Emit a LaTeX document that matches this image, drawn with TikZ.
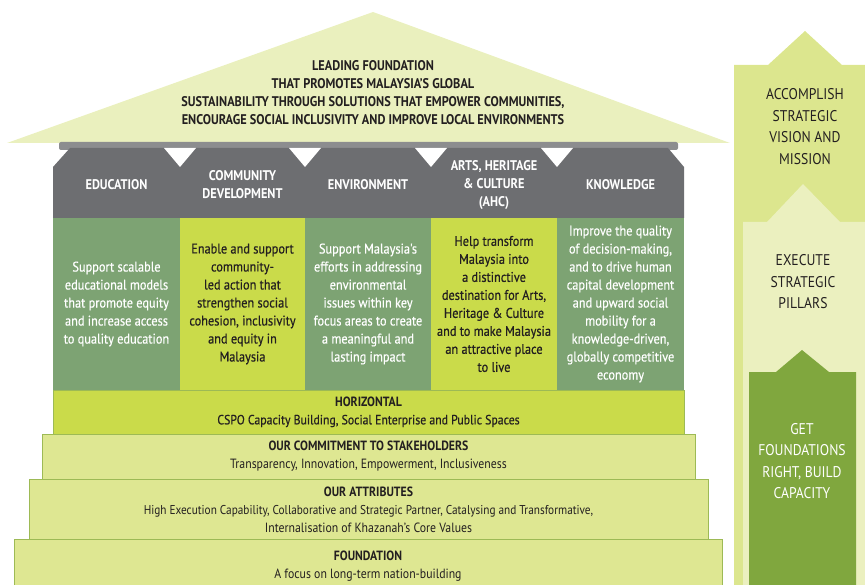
\documentclass[tikz,border=0pt]{standalone}
\usepackage{fontspec}
\setmainfont[FakeStretch=0.88]{PT Sans}
\newfontfamily\pillarfont[FakeStretch=0.88, FakeBold=0.5]{PT Sans}

\definecolor{roofgreen}{HTML}{EAF0BE}
\definecolor{beamgrey}{HTML}{8C8D8F}
\definecolor{headgrey}{HTML}{6D6E71}
\definecolor{pillardark}{HTML}{7DA373}
\definecolor{pillarlime}{HTML}{CADB4A}
\definecolor{bandlight}{HTML}{DEE792}
\definecolor{bandline}{HTML}{9DBA55}
\definecolor{stageone}{HTML}{DCE68E}
\definecolor{stagetwo}{HTML}{EBF0BF}
\definecolor{stagethree}{HTML}{80A73E}
\definecolor{inkdark}{HTML}{231F20}

\tikzset{
  pillar/.style={minimum width=126pt, minimum height=172pt, inner sep=0pt,
    align=center, font=\pillarfont\fontsize{14}{18}\selectfont},
  pillarhead/.style={align=center, text=white, font=\bfseries\fontsize{14}{18}\selectfont},
  band/.style={draw=bandline, line width=0.8pt, inner sep=0pt, align=center,
    text=inkdark, font=\fontsize{13.4}{18}\selectfont},
  stage/.style={align=center, font=\fontsize{15.5}{21.5}\selectfont}
}

\begin{document}
\begin{tikzpicture}[x=1pt, y=-1pt]
  \useasboundingbox (0,0) rectangle (865,585);

  % arrows on the right
  \fill[stageone] (734,600) -- (734,65) -- (768,65) -- (805,31) -- (842,65) --
  (876,65) -- (876,600) -- cycle;
  \fill[stagetwo] (743,600) -- (743,222) -- (767,222) -- (803,184) -- (840,222) --
  (870,222) -- (870,600) -- cycle;
  \fill[stagethree] (749,600) -- (749,372) -- (776,372) -- (802,350) -- (829,372) --
  (856,372) -- (856,600) -- cycle;
  \node[stage, text=inkdark] (accomplish) at (805,126.5)
  {ACCOMPLISH\\STRATEGIC\\VISION AND\\MISSION};
  \node[stage, text=inkdark] (execute) at (803,282) {EXECUTE\\STRATEGIC\\PILLARS};
  \node[stage, text=white] (getright) at (802,461)
  {GET\\FOUNDATIONS\\RIGHT, BUILD\\CAPACITY};

  % roof
  \fill[roofgreen] (7,143) -- (373,12) -- (730,143) -- cycle;
  \node[align=center, text=inkdark, font=\bfseries\fontsize{14}{18}\selectfont]
  (vision) at (373,93)
  {LEADING FOUNDATION\\
    THAT PROMOTES MALAYSIA'S GLOBAL\\
    SUSTAINABILITY THROUGH SOLUTIONS THAT EMPOWER COMMUNITIES,\\
    ENCOURAGE SOCIAL INCLUSIVITY AND IMPROVE LOCAL ENVIRONMENTS};

  % beam and pillar heads
  \fill[beamgrey, rounded corners=2] (59,142) rectangle (678,150);
  \fill[headgrey] (53,167) -- (70,148) -- (668,148) -- (684,167) --
  (684,218) -- (53,218) -- cycle;
  \fill[white] (164,148) -- (196,148) -- (180,167) -- cycle;
  \fill[white] (289,148) -- (321,148) -- (305,167) -- cycle;
  \fill[white] (415,148) -- (447,148) -- (431,167) -- cycle;
  \fill[white] (541,148) -- (573,148) -- (557,167) -- cycle;

  \node[pillarhead] (education) at (116.5,185) {EDUCATION};
  \node[pillarhead] (community) at (242.5,185) {COMMUNITY\\DEVELOPMENT};
  \node[pillarhead] (environment) at (368,185) {ENVIRONMENT};
  \node[pillarhead] (ahc) at (494,185) {ARTS, HERITAGE\\\& CULTURE\\(AHC)};
  \node[pillarhead] (knowledge) at (620.5,185) {KNOWLEDGE};

  % pillars
  \node[pillar, fill=pillardark, text=white, minimum width=127pt] (educationtxt)
  at (116.5,304) {Support scalable\\educational models\\that promote equity\\
    and increase access\\to quality education};
  \node[pillar, fill=pillarlime, text=inkdark, minimum width=125pt] (communitytxt)
  at (242.5,304) {Enable and support\\community-\\led action that\\
    strengthen social\\cohesion, inclusivity\\and equity in\\Malaysia};
  \node[pillar, fill=pillardark, text=white] (environmenttxt)
  at (368,304) {Support Malaysia's\\efforts in addressing\\environmental\\
    issues within key\\focus areas to create\\a meaningful and\\lasting impact};
  \node[pillar, fill=pillarlime, text=inkdark] (ahctxt)
  at (494,304) {Help transform\\Malaysia into\\a distinctive\\
    destination for Arts,\\Heritage \& Culture\\and to make Malaysia\\
    an attractive place\\to live};
  \node[pillar, fill=pillardark, text=white, minimum width=127pt] (knowledgetxt)
  at (620.5,304) {Improve the quality\\of decision-making,\\and to drive human\\
    capital development\\and upward social\\mobility for a\\knowledge-driven,\\
    globally competitive\\economy};

  % steps
  \node[band, fill=pillarlime, minimum width=631pt, minimum height=44pt]
  (horizontal) at (368.5,412)
  {\textbf{HORIZONTAL}\\{\pillarfont CSPO Capacity Building, Social Enterprise and Public Spaces}};
  \node[band, fill=bandlight, minimum width=653pt, minimum height=45pt]
  (commitment) at (368.5,456.5)
  {\textbf{OUR COMMITMENT TO STAKEHOLDERS}\\
    Transparency, Innovation, Empowerment, Inclusiveness};
  \node[band, fill=bandlight, minimum width=679pt, minimum height=60pt]
  (attributes) at (368.5,509.5)
  {\textbf{OUR ATTRIBUTES}\\
    {\fontsize{12.8}{18}\selectfont High Execution Capability, Collaborative and Strategic Partner, Catalysing and Transformative,}\\
    Internalisation of Khazanah's Core Values};
  \node[band, fill=bandlight, minimum width=708pt, minimum height=54pt]
  (foundation) at (368,566.5)
  {\textbf{FOUNDATION}\\A focus on long-term nation-building};
\end{tikzpicture}
\end{document}
